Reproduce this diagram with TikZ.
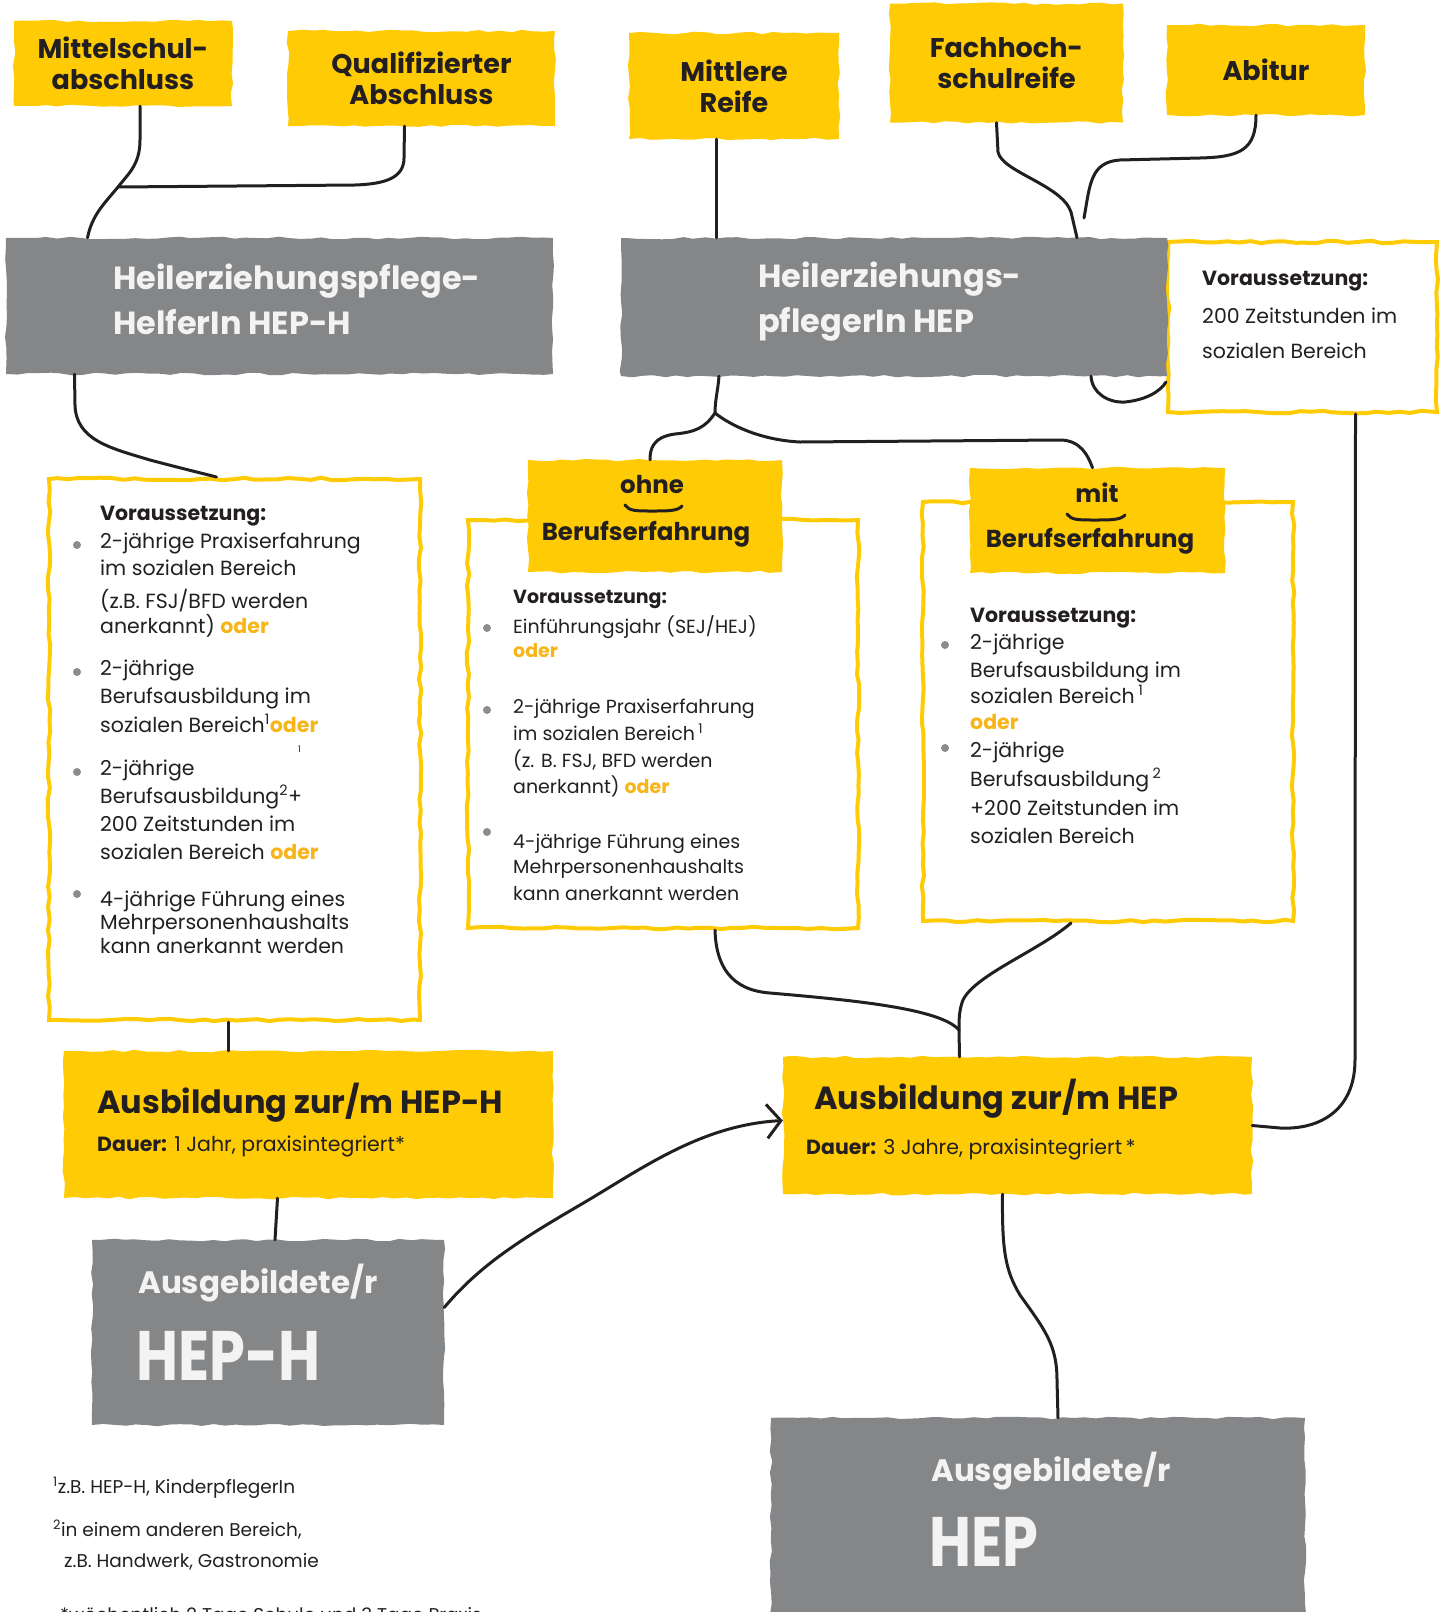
\documentclass[tikz,border=0pt]{standalone}
\usepackage{fontspec}
\setmainfont{Poppins}
\usetikzlibrary{arrows.meta,
                decorations.pathmorphing,
                positioning}
\definecolor{hepyellow}{HTML}{FFCB05}
\definecolor{hepgray}{HTML}{858688}
\definecolor{hepdark}{HTML}{231F20}
\definecolor{heporange}{HTML}{F7B519}
\definecolor{hepdot}{HTML}{8C8C8C}
\definecolor{heplight}{HTML}{F3F3F3}
\newcommand{\oder}{\textcolor{heporange}{\bfseries oder}}
\newcommand{\fs}[2]{\fontsize{#1}{#2}\selectfont}
\tikzset{
  rough/.style={decorate, decoration={random steps, segment length=11pt, amplitude=1.3pt}},
  ybox/.style={rough, fill=hepyellow, inner sep=0pt, text=hepdark, align=center,
               font=\bfseries\fs{27}{31}},
  gbox/.style={rough, fill=hepgray, inner sep=0pt},
  obox/.style={rough, draw=hepyellow, line width=4pt, inner sep=0pt},
  link/.style={draw=hepdark, line width=3pt, line cap=round, line join=round},
  ln/.style={anchor=base west, inner sep=0pt, text=hepdark, font=\fs{20.5}{24}},
  cn/.style={anchor=base, inner sep=0pt, text=hepdark, font=\bfseries\fs{24.5}{28}},
  big/.style={ln, text=heplight, font=\bfseries\fs{32}{40}},
  bul/.style={fill=hepdot},
}
\begin{document}
\begin{tikzpicture}[x=1pt, y=-1pt]
\pgfmathsetseed{11}
\useasboundingbox (0,0) rectangle (1445,1612);

% outline boxes
\node[obox, minimum width=371, minimum height=541] (lbox) at (234.5,749.5) {};
\node[obox, minimum width=390, minimum height=408] (mbox) at (663,724) {};
\node[obox, minimum width=370, minimum height=419] (rbox) at (1108,711.5) {};
\node[obox, minimum width=269, minimum height=170] (vbox) at (1302.5,327) {};

% school leaving certificates
\node[ybox, minimum width=218, minimum height=85]  (mittel)   at (123,63.5)   {Mittelschul-\\abschluss};
\node[ybox, minimum width=267, minimum height=95]  (quali)    at (421.5,78.5) {Qualifizierter\\Abschluss};
\node[ybox, minimum width=210, minimum height=106] (mittlere) at (734,86)     {Mittlere\\Reife};
\node[ybox, minimum width=233, minimum height=119] (fach)     at (1006.5,63)  {Fachhoch-\\schulreife};
\node[ybox, minimum width=198, minimum height=90]  (abitur)   at (1266,70)    {Abitur};

% professions
\node[gbox, minimum width=547, minimum height=136] (heph) at (279.5,306) {};
\node[big] (heph-a) at (113,289) {Heilerziehungspflege-};
\node[big] (heph-b) at (113,334) {HelferIn HEP-H};
\node[gbox, minimum width=546, minimum height=138] (hep) at (894,307) {};
\node[big] (hep-a) at (758,287) {Heilerziehungs-};
\node[big] (hep-b) at (758,332) {pflegerIn HEP};

% experience labels
\node[ybox, minimum width=254, minimum height=112] (ohne) at (655,516) {};
\node[cn] (ohne-a) at (652,493) {ohne};
\node[cn] (ohne-b) at (646,540) {Berufserfahrung};
\draw[link] (625,505) .. controls (629,511) and (636,511) .. (652,511) .. controls (668,511) and (678,511) .. (682,506);
\node[ybox, minimum width=255, minimum height=105] (mit) at (1097.5,520.5) {};
\node[cn] (mit-a) at (1097,502) {mit};
\node[cn] (mit-b) at (1090,547) {Berufserfahrung};
\draw[link] (1067,514) .. controls (1071,520) and (1078,520) .. (1095,520) .. controls (1110,520) and (1121,520) .. (1125,515);

% requirements
\foreach \y/\t [count=\i] in {520/{\textbf{Voraussetzung:}}, 548/{2-jährige Praxiserfahrung},
    575/{im sozialen Bereich}, 608/{(z.B. FSJ/BFD werden}, 633/{anerkannt) \oder},
    675/{2-jährige}, 703/{Berufsausbildung im}, 732/{sozialen Bereich\textsuperscript{1}\oder},
    775/{2-jährige}, 803/{Berufsausbildung\textsuperscript{2}+}, 831/{200 Zeitstunden im},
    859/{sozialen Bereich \oder}, 906/{4-jährige Führung eines}, 929/{Mehrpersonenhaushalts},
    953/{kann anerkannt werden}}
  \node[ln] (lt\i) at (100,\y) {\t};
\node[ln, font=\fs{9}{9}] (lt-x) at (298,752) {1};
\foreach \y in {545,672,772,894} \fill[bul] (77,\y) circle (4);

\foreach \y/\t [count=\i] in {603/{\textbf{Voraussetzung:}}, 633/{Einführungsjahr (SEJ/HEJ)},
    657/{\oder}, 713/{2-jährige Praxiserfahrung}, 740/{im sozialen Bereich\,\textsuperscript{1}},
    767/{(z. B. FSJ, BFD werden}, 793/{anerkannt) \oder}, 848/{4-jährige Führung eines},
    873/{Mehrpersonenhaushalts}, 900/{kann anerkannt werden}}
  \node[ln, font=\fs{19}{22}] (mt\i) at (513,\y) {\t};
\foreach \y in {628,710,832} \fill[bul] (487,\y) circle (4);

\foreach \y/\t [count=\i] in {622/{\textbf{Voraussetzung:}}, 649/{2-jährige},
    677/{Berufsausbildung im}, 703/{sozialen Bereich\,\textsuperscript{1}}, 729/{\oder},
    757/{2-jährige}, 786/{Berufsausbildung\,\textsuperscript{2}}, 815/{+200 Zeitstunden im},
    843/{sozialen Bereich}}
  \node[ln] (rt\i) at (970,\y) {\t};
\foreach \y in {645,748} \fill[bul] (945,\y) circle (4);

\node[ln] (vt1) at (1202,285) {\textbf{Voraussetzung:}};
\node[ln] (vt2) at (1202,323) {200 Zeitstunden im};
\node[ln] (vt3) at (1202,358) {sozialen Bereich};

% training
\node[ybox, minimum width=489, minimum height=147] (ausbh) at (308.5,1124.5) {};
\node[ln, font=\bfseries\fs{32}{40}] (ausbh-a) at (97,1113) {Ausbildung zur/m HEP-H};
\node[ln] (ausbh-b) at (97,1151) {\textbf{Dauer:} 1 Jahr, praxisintegriert*};
\node[ybox, minimum width=469, minimum height=137] (ausb) at (1017.5,1125.5) {};
\node[ln, font=\bfseries\fs{32}{40}] (ausb-a) at (814,1109) {Ausbildung zur/m HEP};
\node[ln] (ausb-b) at (806,1154) {\textbf{Dauer:} 3 Jahre, praxisintegriert\,*};

% graduates
\node[gbox, minimum width=352, minimum height=185] (gebh) at (268,1332.5) {};
\node[big, font=\bfseries\fs{31}{36}] (gebh-a) at (138,1293) {Ausgebildete/r};
\node[big, font=\bfseries\fs{70}{70}] (gebh-b) at (136,1380) {\scalebox{0.82}[1]{HEP-H}};
\node[gbox, minimum width=534, minimum height=207] (geb) at (1038,1521.5) {};
\node[big, font=\bfseries\fs{31}{36}] (geb-a) at (931,1481) {Ausgebildete/r};
\node[big, font=\bfseries\fs{70}{70}] (geb-b) at (929,1566) {\scalebox{0.82}[1]{HEP}};

% footnotes
\node[ln, font=\fs{18.5}{20}] (fn1) at (53,1493) {\textsuperscript{1}z.B. HEP-H, KinderpflegerIn};
\node[ln, font=\fs{18.5}{20}] (fn2) at (53,1536) {\textsuperscript{2}in einem anderen Bereich,};
\node[ln, font=\fs{18.5}{20}] (fn3) at (64,1567) {z.B. Handwerk, Gastronomie};
\node[ln, font=\fs{18.5}{20}] (fn4) at (60,1621) {*wöchentlich 2 Tage Schule und 3 Tage Praxis};

% connectors
\coordinate (j1) at (118,187);
\coordinate (j2) at (715,413);
\coordinate (j3) at (959,1030);
\coordinate (e1) at (1084,218);
\draw[link] ([xshift=17]mittel.south) -- (140,140) .. controls (140,165) and (128,174) .. (j1)
            .. controls (104,204) and (92,215) .. ([xshift=-192]heph.north);
\draw[link] ([xshift=-17]quali.south) -- (404,158) .. controls (404,178) and (385,184) .. (355,185) -- (j1);
\draw[link] ([xshift=-18]mittlere.south) -- ([xshift=-18]mittlere.south |- hep.north);
\draw[link] ([xshift=-10]fach.south) -- (998,152) .. controls (1002,172) and (1062,185) .. (1071,212)
            -- ([xshift=183]hep.north);
\draw[link] ([xshift=-10]abitur.south) .. controls (1256,150) and (1240,157) .. (1200,158)
            -- (1120,160) .. controls (1090,162) and (1090,185) .. (e1);
\draw[link] ([xshift=197]hep.south) .. controls (1092,393) and (1108,403) .. (1125,402)
            .. controls (1145,400) and (1160,392) .. ([yshift=-55]vbox.west);
\draw[link] ([xshift=53]vbox.south) -- (1355,1060) .. controls (1355,1110) and (1320,1130) .. (1280,1128)
            -- (ausb.east);
\draw[link] ([xshift=-205]heph.south) -- (75,405) .. controls (76,440) and (110,448) .. (150,460)
            .. controls (180,468) and (205,474) .. ([xshift=-18]lbox.north);
\draw[link] ([xshift=-175]hep.south) .. controls (718,390) and (715,400) .. (j2);
\draw[link] (j2) .. controls (705,428) and (695,432) .. (675,434)
            .. controls (652,437) and (650,450) .. ([xshift=-5]ohne.north);
\draw[link] (j2) .. controls (730,425) and (760,440) .. (800,442) -- (1060,440)
            .. controls (1080,440) and (1088,455) .. ([xshift=-5]mit.north);
\draw[link] ([xshift=-6]lbox.south) -- ([xshift=-6]lbox.south |- ausbh.north);
\draw[link] ([xshift=-31]ausbh.south) -- ([xshift=7]gebh.north);
\draw[link, -{Straight Barb[length=14pt, width=34pt]}] ([yshift=25]gebh.east)
            .. controls (480,1265) and (520,1240) .. (580,1205)
            .. controls (640,1170) and (700,1125) .. ([yshift=5]ausb.west);
\draw[link] ([xshift=52]mbox.south) .. controls (716,965) and (730,990) .. (770,993)
            .. controls (850,1000) and (940,1008) .. (j3) -- ([xshift=-58]ausb.north);
\draw[link] ([xshift=-37]rbox.south) .. controls (1040,950) and (975,975) .. (963,1000)
            .. controls (959,1010) and (959,1020) .. (j3);
\draw[link] ([xshift=-15]ausb.south) .. controls (1002,1250) and (1005,1270) .. (1020,1295)
            .. controls (1045,1330) and (1057,1345) .. (1057,1380) -- ([xshift=20]geb.north);
\end{tikzpicture}
\end{document}
